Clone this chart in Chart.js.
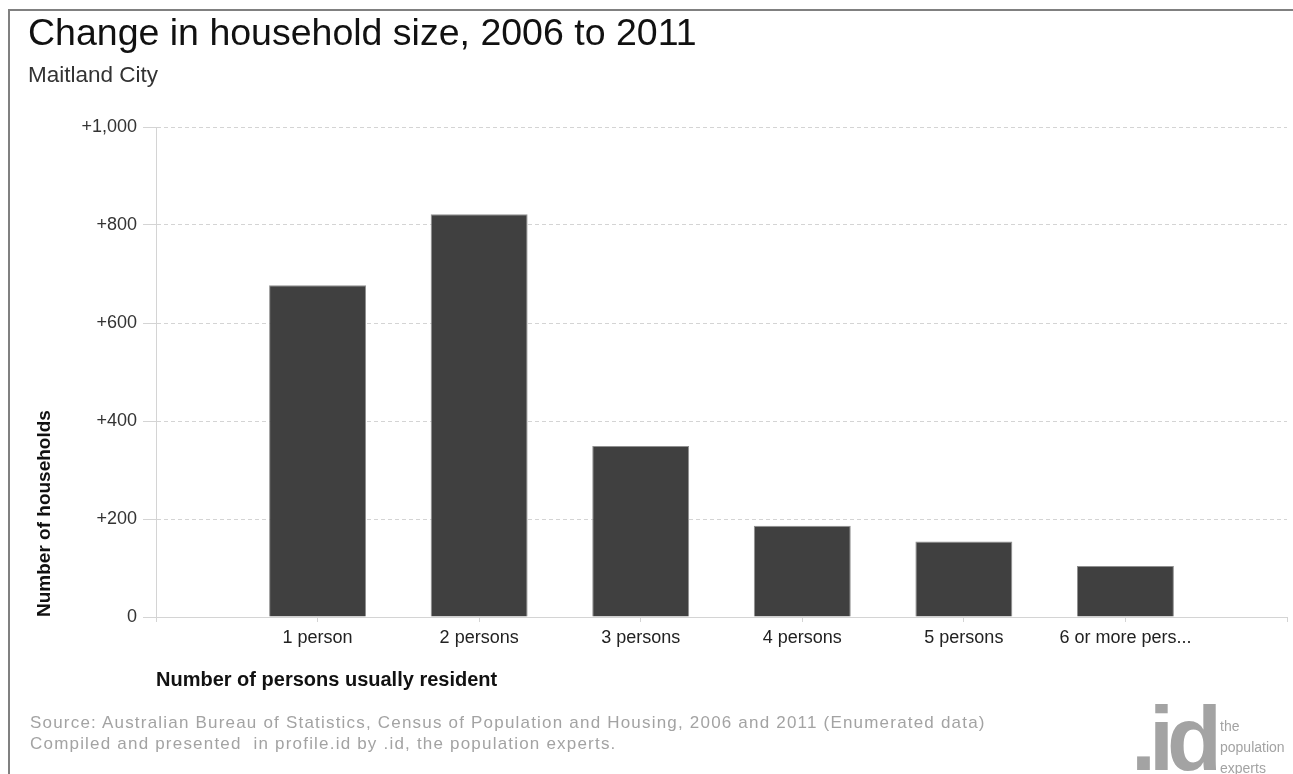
<!DOCTYPE html>
<html>
<head>
<meta charset="utf-8">
<script src="https://cdn.jsdelivr.net/npm/chart.js@4"></script>
<style>
  html, body { margin: 0; padding: 0; background: #fff; }
  body { width: 1293px; height: 774px; position: relative; overflow: hidden; font-family: 'Liberation Sans', Arial, sans-serif; }
  #frame { position: absolute; left: 8px; top: 9px; width: 1400px; height: 900px; border-left: 2px solid #808080; border-top: 2px solid #808080; }
  #chart { position: absolute; left: 0; top: 0; }
  .txt { position: absolute; white-space: nowrap; }
  #title { left: 28px; top: 14px; font-size: 37.5px; line-height: 37px; color: #111; }
  #subtitle { left: 28px; top: 64px; font-size: 22.5px; line-height: 22px; color: #333; }
  #source { left: 30px; top: 712px; font-size: 17px; line-height: 21px; color: #a3a3a3; letter-spacing: 1.2px; }
  #logo { left: 1131px; top: 689px; font-size: 90px; line-height: 100px; font-weight: bold; color: #a3a3a3; letter-spacing: -7px; }
  #logotag { left: 1220px; top: 716px; font-size: 14px; line-height: 21px; color: #a3a3a3; }
</style>
</head>
<body>
<div id="frame"></div>
<canvas id="chart" width="1293" height="774"></canvas>
<div class="txt" id="title">Change in household size, 2006 to 2011</div>
<div class="txt" id="subtitle">Maitland City</div>
<div class="txt" id="source">Source: Australian Bureau of Statistics, Census of Population and Housing, 2006 and 2011 (Enumerated data)<br>Compiled and presented&nbsp; in profile.id by .id, the population experts.</div>
<div class="txt" id="logo">.id</div>
<div class="txt" id="logotag">the<br>population<br>experts</div>
<script>
// blank slots at both ends give the empty space left and right of the bars
var categories = ['', '1 person', '2 persons', '3 persons', '4 persons', '5 persons', '6 or more pers...', ''];
var households = [null, 677, 822, 349, 186, 154, 104, null];
var yTicks = [0, 200, 400, 600, 800, 1000];

var FONT = "'Liberation Sans', Arial, sans-serif";
var GRID = '#d4d4d4';

function fmtTick(v) {
    if (v === 0) return '0';
    return '+' + v.toLocaleString('en-US');
}

var ctx = document.getElementById('chart');
var chart = new Chart(ctx, {
    type: 'bar',
    data: {
        labels: categories,
        datasets: [{
            data: households,
            backgroundColor: '#404040',
            borderColor: '#909090',
            borderWidth: 1,
            categoryPercentage: 1,
            barPercentage: 0.6
        }]
    },
    options: {
        responsive: false,
        animation: false,
        devicePixelRatio: 1,
        layout: { padding: { left: 0, top: 127, right: 6, bottom: 77 } },
        plugins: { legend: { display: false }, tooltip: { enabled: false } },
        scales: {
            x: {
                offset: false,
                grid: { offset: false, drawOnChartArea: false, drawTicks: true, tickLength: 5, tickColor: GRID },
                border: { color: GRID, width: 1 },
                ticks: { autoSkip: false, maxRotation: 0, padding: 5, color: '#222', font: { family: FONT, size: 18 } },
                title: { display: true, text: 'Number of persons usually resident', align: 'start', color: '#111',
                         font: { family: FONT, size: 20, weight: 'bold' }, padding: { top: 0, bottom: 5 } },
                afterFit: function (scale) { scale.height = 80; }
            },
            y: {
                min: yTicks[0],
                max: yTicks[yTicks.length - 1],
                afterBuildTicks: function (scale) { scale.ticks = yTicks.map(function (v) { return { value: v }; }); },
                grid: {
                    color: function (c) { return c.tick && c.tick.value === 0 ? 'rgba(0,0,0,0)' : GRID; },
                    tickColor: GRID,
                    tickLength: 13,
                    tickBorderDash: []
                },
                border: { color: GRID, width: 1, dash: [4, 3] },
                ticks: { padding: 6, color: '#333', font: { family: FONT, size: 18 }, callback: fmtTick },
                title: { display: true, text: 'Number of households', align: 'start', color: '#111',
                         font: { family: FONT, size: 19, weight: 'bold' }, padding: { top: 33, bottom: 0 } },
                afterFit: function (scale) { scale.width = 156; }
            }
        }
    }
});
</script>
</body>
</html>
